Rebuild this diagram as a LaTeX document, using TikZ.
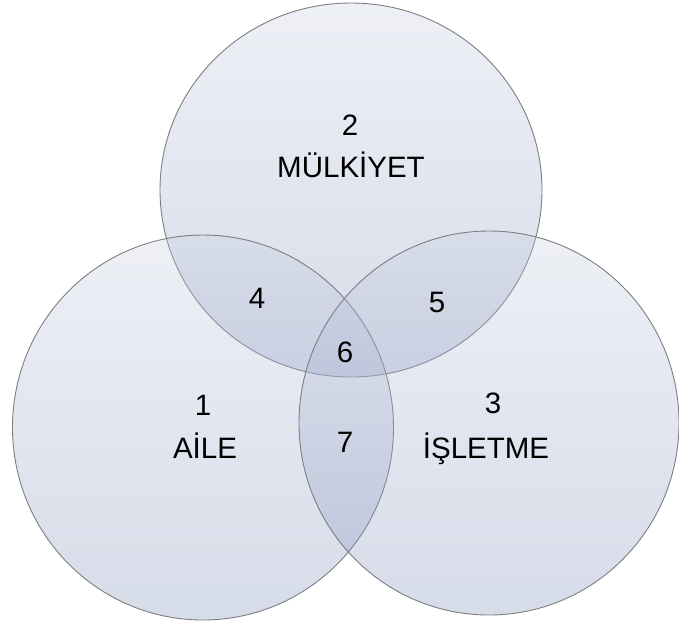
\documentclass[tikz,border=0pt]{standalone}
\usepackage{fontspec}
\setmainfont{Liberation Sans}
\definecolor{ctop}{RGB}{199,205,225}
\definecolor{cbot}{RGB}{120,138,181}
\definecolor{cline}{RGB}{125,125,130}
\begin{document}
\begin{tikzpicture}[x=1pt,y=-1pt,
  venn/.style={top color=ctop, bottom color=cbot, fill opacity=0.3, draw=cline, line width=0.9pt},
  lbl/.style={font=\fontsize{29.5}{35}\selectfont, text=black, anchor=base, inner sep=0pt}]
\useasboundingbox (0,0) rectangle (679,625);
\shade[venn] (351,190) ellipse [x radius=191, y radius=187];
\shade[venn] (203,427.5) ellipse [x radius=190.5, y radius=192.5];
\shade[venn] (489,423) ellipse [x radius=190, y radius=192];
\node[lbl] (n2) at (350,135) {2};
\node[lbl] (t2) at (351,177) {MÜLKİYET};
\node[lbl] (n1) at (203,415) {1};
\node[lbl] (t1) at (205,458) {AİLE};
\node[lbl] (n3) at (493,413) {3};
\node[lbl] (t3) at (486,458) {İŞLETME};
\node[lbl] (n4) at (257,308) {4};
\node[lbl] (n5) at (437,312) {5};
\node[lbl] (n6) at (345,362) {6};
\node[lbl] (n7) at (345,452) {7};
\end{tikzpicture}
\end{document}
